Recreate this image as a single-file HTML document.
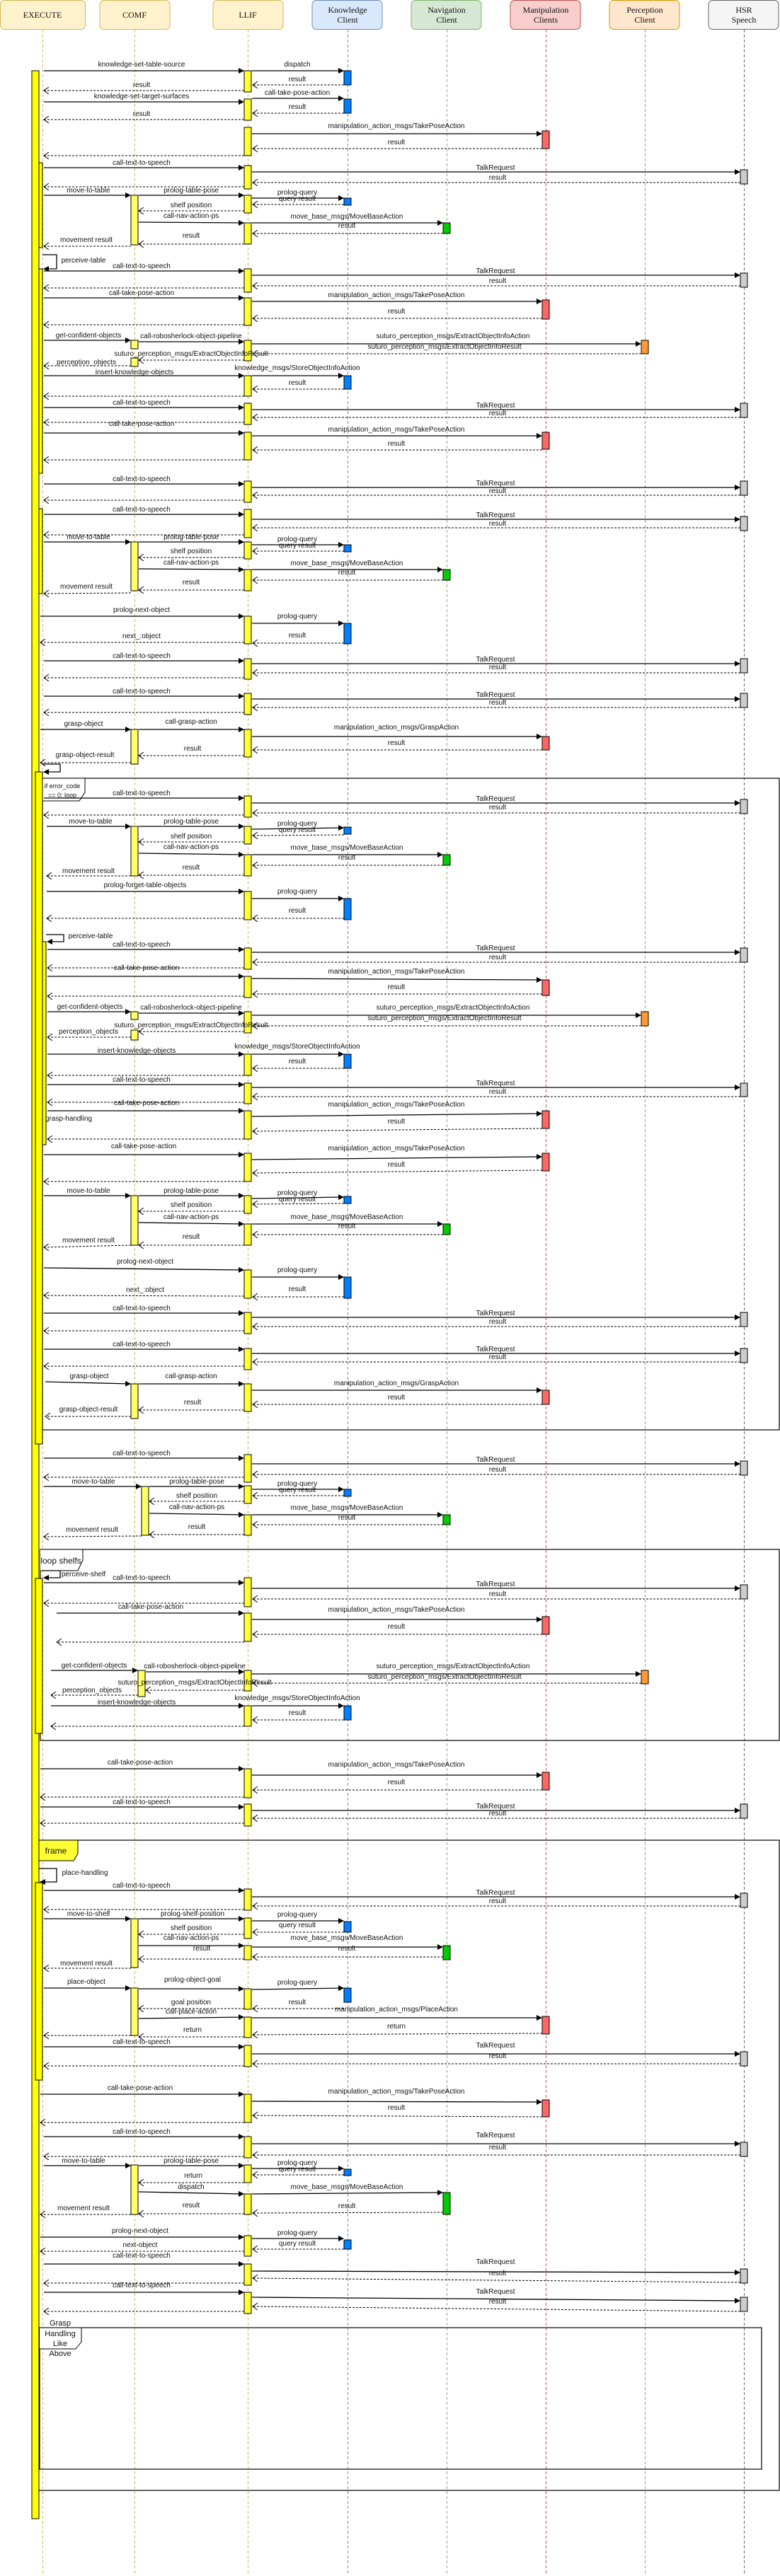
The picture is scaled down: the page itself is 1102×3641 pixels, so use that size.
<!DOCTYPE html>
<html><head><meta charset="utf-8"><style>
html,body{margin:0;padding:0;background:#fff;}
svg{display:block}
text{font-family:"Liberation Sans",sans-serif;font-size:10px;text-anchor:middle;fill:#111}
.hd{font-family:"Liberation Serif",serif;font-size:12px}
.s{stroke:#000;stroke-width:1.3;fill:none;marker-end:url(#a)}
.d{stroke:#000;stroke-width:1;stroke-dasharray:3 2;fill:none;marker-end:url(#o)}
.L{fill:#ffff33;stroke:#000;stroke-width:1}
.C{fill:#ffff66;stroke:#000;stroke-width:1}
.K{fill:#007fff;stroke:#000;stroke-width:1}
.N{fill:#00cc00;stroke:#000;stroke-width:1}
.M{fill:#ff6666;stroke:#000;stroke-width:1}
.P{fill:#ff9933;stroke:#000;stroke-width:1}
.H{fill:#cccccc;stroke:#000;stroke-width:1}
.E{fill:#ffff00;stroke:#000;stroke-width:1}
.ll{stroke-width:1;stroke-dasharray:4 3}
.fr{fill:none;stroke:#000;stroke-width:1.2}
.lp{fill:none;stroke:#000;stroke-width:1.2}
</style></head><body>
<svg width="1102" height="3641" viewBox="0 0 1102 3641" xmlns="http://www.w3.org/2000/svg">
<defs>
<marker id="a" markerWidth="8" markerHeight="8" refX="7" refY="4" orient="auto" markerUnits="userSpaceOnUse"><path d="M0,0L8,4L0,8z" fill="#000"/></marker>
<marker id="o" markerWidth="9" markerHeight="10" refX="7" refY="5" orient="auto" markerUnits="userSpaceOnUse"><path d="M0,0L7,5L0,10" fill="none" stroke="#000"/></marker>
</defs>
<!-- headers -->
<rect x="0.5" y="0.5" width="120" height="41" rx="6" fill="#fff2cc" stroke="#d6b656"/><text class="hd" x="60" y="25">EXECUTE</text>
<rect x="141" y="0.5" width="99" height="41" rx="6" fill="#fff2cc" stroke="#d6b656"/><text class="hd" x="190" y="25">COMF</text>
<rect x="301" y="0.5" width="99" height="41" rx="6" fill="#fff2cc" stroke="#d6b656"/><text class="hd" x="350" y="25">LLIF</text>
<rect x="441" y="0.5" width="99" height="41" rx="6" fill="#dae8fc" stroke="#6c8ebf"/><text class="hd" x="491" y="18">Knowledge</text><text class="hd" x="491" y="32">Client</text>
<rect x="581" y="0.5" width="99" height="41" rx="6" fill="#d5e8d4" stroke="#82b366"/><text class="hd" x="631" y="18">Navigation</text><text class="hd" x="631" y="32">Client</text>
<rect x="721" y="0.5" width="99" height="41" rx="6" fill="#f8cecc" stroke="#b85450"/><text class="hd" x="771" y="18">Manipulation</text><text class="hd" x="771" y="32">Clients</text>
<rect x="861" y="0.5" width="99" height="41" rx="6" fill="#ffe6cc" stroke="#d79b00"/><text class="hd" x="911" y="18">Perception</text><text class="hd" x="911" y="32">Client</text>
<rect x="1001" y="0.5" width="99" height="41" rx="6" fill="#f5f5f5" stroke="#666"/><text class="hd" x="1051" y="18">HSR</text><text class="hd" x="1051" y="32">Speech</text>
<!-- lifelines -->
<line class="ll" x1="60.5" y1="42" x2="60.5" y2="3637" stroke="#d6b656"/>
<line class="ll" x1="190.5" y1="42" x2="190.5" y2="3637" stroke="#d6b656"/>
<line class="ll" x1="350.5" y1="42" x2="350.5" y2="3637" stroke="#d6b656"/>
<line class="ll" x1="491.5" y1="42" x2="491.5" y2="3637" stroke="#6c8ebf"/>
<line class="ll" x1="631.5" y1="42" x2="631.5" y2="3637" stroke="#82b366"/>
<line class="ll" x1="771.5" y1="42" x2="771.5" y2="3637" stroke="#b85450"/>
<line class="ll" x1="911.5" y1="42" x2="911.5" y2="3637" stroke="#999"/>
<line class="ll" x1="1051.5" y1="42" x2="1051.5" y2="3637" stroke="#666"/>

<!-- frames -->
<rect class="fr" x="60" y="1100" width="1041" height="921"/>
<path d="M60,1100H120V1120L112,1132H60" fill="#fff" stroke="#000"/><text x="88" y="1114" style="font-size:9px">if error_code</text><text x="88" y="1127" style="font-size:9px">== 0; loop</text>
<rect class="fr" x="57" y="2190" width="1044" height="270"/>
<path d="M57,2190H117V2205L110,2220H57" fill="#fff" stroke="#000"/><text x="86" y="2210" style="font-size:12px">loop shelfs</text>
<rect class="fr" x="50" y="2601" width="1051" height="919"/>
<path d="M50,2601H110V2620L104,2630H50z" fill="#ffff33" stroke="#000"/><text x="79" y="2620" style="font-size:12px">frame</text>
<rect class="fr" x="56" y="3290" width="1020" height="200"/>
<path d="M56,3290H115V3310L107,3320H56" fill="#fff" stroke="#000"/>
<text x="85" y="3287" style="font-size:11px">Grasp</text><text x="85" y="3302" style="font-size:11px">Handling</text><text x="85" y="3316" style="font-size:11px">Like</text><text x="85" y="3330" style="font-size:11px">Above</text>

<!-- execute activations -->
<rect class="E" x="45" y="100" width="10" height="3460"/>
<rect class="E" x="55" y="230" width="5" height="120"/>
<rect class="E" x="55" y="380" width="5" height="289"/>
<rect class="E" x="55" y="719" width="5" height="120"/>
<rect class="E" x="50" y="1091" width="10" height="950"/>
<rect class="E" x="60" y="1331" width="5" height="287"/>
<rect class="E" x="50" y="2231" width="10" height="219"/>
<rect class="E" x="50" y="2661" width="10" height="279"/>

<!-- self loops -->
<path class="s" d="M60,360H80V380H62"/><text x="118" y="371">perceive-table</text>
<path class="s" d="M60,1080H85V1091H62"/>
<path class="s" d="M65,1321H90V1331H67"/><text x="128" y="1326">perceive-table</text>
<path class="s" d="M60,2220H85V2230H62"/><text x="118" y="2228">perceive-shelf</text>
<path class="s" d="M55,2641H80V2660H57"/><text x="120" y="2650">place-handling</text>
<text x="97" y="1584">grasp-handling</text>

<!-- top custom -->
<text x="200" y="94">knowledge-set-table-source</text><line class="s" x1="62" y1="100" x2="344" y2="100"/>
<rect class="L" x="345" y="100" width="10" height="30"/>
<text x="420" y="94">dispatch</text><line class="s" x1="356" y1="100" x2="485" y2="100"/>
<rect class="K" x="486" y="100" width="10" height="20"/>
<text x="420" y="115">result</text><line class="d" x1="486" y1="120" x2="357" y2="120"/>
<text x="200" y="123">result</text><line class="d" x1="345" y1="128" x2="62" y2="128"/>
<text x="420" y="134">call-take-pose-action</text><line class="s" x1="356" y1="139" x2="485" y2="139"/>
<rect class="K" x="486" y="140" width="10" height="20"/>
<text x="420" y="154">result</text><line class="d" x1="486" y1="160" x2="357" y2="160"/>
<text x="200" y="139">knowledge-set-target-surfaces</text><line class="s" x1="62" y1="144" x2="344" y2="144"/>
<rect class="L" x="345" y="140" width="10" height="30"/>
<text x="200" y="164">result</text><line class="d" x1="345" y1="169" x2="62" y2="169"/>
<rect class="L" x="345" y="180" width="10" height="40"/>
<text x="560" y="181">manipulation_action_msgs/TakePoseAction</text><line class="s" x1="356" y1="189" x2="765" y2="189"/>
<rect class="M" x="766" y="185" width="10" height="25"/>
<text x="560" y="204">result</text><line class="d" x1="766" y1="210" x2="357" y2="210"/>
<line class="d" x1="345" y1="220" x2="62" y2="220"/>

<!-- T instances -->
<g transform="translate(0,237)"><text x="200" y="-4">call-text-to-speech</text><line class="s" x1="62" y1="0" x2="344" y2="0"/><rect class="L" x="345" y="-3" width="10" height="33"/><line class="s" x1="356" y1="6" x2="1045" y2="6"/><text x="700" y="3">TalkRequest</text><rect class="H" x="1046" y="3" width="10" height="20"/><line class="d" x1="1046" y1="21" x2="357" y2="21"/><text x="703" y="17">result</text><line class="d" x1="345" y1="27" x2="62" y2="27"/></g>
<g transform="translate(0,383)"><text x="200" y="-4">call-text-to-speech</text><line class="s" x1="62" y1="0" x2="344" y2="0"/><rect class="L" x="345" y="-3" width="10" height="33"/><line class="s" x1="356" y1="6" x2="1045" y2="6"/><text x="700" y="3">TalkRequest</text><rect class="H" x="1046" y="3" width="10" height="20"/><line class="d" x1="1046" y1="21" x2="357" y2="21"/><text x="703" y="17">result</text><line class="d" x1="345" y1="24" x2="62" y2="24"/></g>
<g transform="translate(0,576)"><text x="200" y="-4">call-text-to-speech</text><line class="s" x1="62" y1="0" x2="344" y2="0"/><rect class="L" x="345" y="-6" width="10" height="30"/><line class="s" x1="356" y1="3" x2="1045" y2="3"/><text x="700" y="0">TalkRequest</text><rect class="H" x="1046" y="-6" width="10" height="20"/><line class="d" x1="1046" y1="14" x2="357" y2="14"/><text x="703" y="11">result</text><line class="d" x1="345" y1="21" x2="62" y2="21"/></g>
<g transform="translate(0,684)"><text x="200" y="-4">call-text-to-speech</text><line class="s" x1="62" y1="0" x2="344" y2="0"/><rect class="L" x="345" y="-4" width="10" height="30"/><line class="s" x1="356" y1="5" x2="1045" y2="5"/><text x="700" y="2">TalkRequest</text><rect class="H" x="1046" y="-4" width="10" height="20"/><line class="d" x1="1046" y1="16" x2="357" y2="16"/><text x="703" y="13">result</text><line class="d" x1="345" y1="23" x2="62" y2="23"/></g>
<g transform="translate(0,727)"><text x="200" y="-4">call-text-to-speech</text><line class="s" x1="62" y1="0" x2="344" y2="0"/><rect class="L" x="345" y="-7" width="10" height="40"/><line class="s" x1="356" y1="7" x2="1045" y2="7"/><text x="700" y="4">TalkRequest</text><rect class="H" x="1046" y="3" width="10" height="20"/><line class="d" x1="1046" y1="19" x2="357" y2="19"/><text x="703" y="16">result</text><line class="d" x1="345" y1="29" x2="62" y2="29"/></g>
<g transform="translate(0,934)"><text x="200" y="-4">call-text-to-speech</text><line class="s" x1="62" y1="0" x2="344" y2="0"/><rect class="L" x="345" y="-3" width="10" height="29"/><line class="s" x1="356" y1="4" x2="1045" y2="4"/><text x="700" y="1">TalkRequest</text><rect class="H" x="1046" y="-3" width="10" height="20"/><line class="d" x1="1046" y1="17" x2="357" y2="17"/><text x="703" y="12">result</text><line class="d" x1="345" y1="24" x2="62" y2="24"/></g>
<g transform="translate(0,984)"><text x="200" y="-4">call-text-to-speech</text><line class="s" x1="62" y1="0" x2="344" y2="0"/><rect class="L" x="345" y="-4" width="10" height="30"/><line class="s" x1="356" y1="4" x2="1045" y2="4"/><text x="700" y="1">TalkRequest</text><rect class="H" x="1046" y="-4" width="10" height="20"/><line class="d" x1="1046" y1="16" x2="357" y2="16"/><text x="703" y="12">result</text><line class="d" x1="345" y1="23" x2="62" y2="23"/></g>
<g transform="translate(0,1128)"><text x="200" y="-4">call-text-to-speech</text><line class="s" x1="62" y1="0" x2="344" y2="0"/><rect class="L" x="345" y="-3" width="10" height="30"/><line class="s" x1="356" y1="7" x2="1045" y2="7"/><text x="700" y="4">TalkRequest</text><rect class="H" x="1046" y="2" width="10" height="20"/><line class="d" x1="1046" y1="21" x2="357" y2="21"/><text x="703" y="16">result</text><line class="d" x1="345" y1="24" x2="62" y2="24"/></g>
<g transform="translate(0,1342)"><text x="200" y="-4">call-text-to-speech</text><line class="s" x1="67" y1="0" x2="344" y2="0"/><rect class="L" x="345" y="-2" width="10" height="30"/><line class="s" x1="356" y1="4" x2="1045" y2="4"/><text x="700" y="1">TalkRequest</text><rect class="H" x="1046" y="-2" width="10" height="20"/><line class="d" x1="1046" y1="18" x2="357" y2="18"/><text x="703" y="14">result</text><line class="d" x1="345" y1="26" x2="67" y2="26"/><text x="207" y="29">call-take-pose-action</text></g>
<g transform="translate(0,1533)"><text x="200" y="-4">call-text-to-speech</text><line class="s" x1="67" y1="0" x2="344" y2="0"/><rect class="L" x="345" y="-2" width="10" height="29"/><line class="s" x1="356" y1="4" x2="1045" y2="4"/><text x="700" y="1">TalkRequest</text><rect class="H" x="1046" y="-2" width="10" height="19"/><line class="d" x1="1046" y1="17" x2="357" y2="17"/><text x="703" y="13">result</text><line class="d" x1="345" y1="25" x2="67" y2="25"/><text x="207" y="29">call-take-pose-action</text></g>
<g transform="translate(0,1856)"><text x="200" y="-4">call-text-to-speech</text><line class="s" x1="62" y1="0" x2="344" y2="0"/><rect class="L" x="345" y="-1" width="10" height="30"/><line class="s" x1="356" y1="6" x2="1045" y2="6"/><text x="700" y="3">TalkRequest</text><rect class="H" x="1046" y="-1" width="10" height="20"/><line class="d" x1="1046" y1="19" x2="357" y2="19"/><text x="703" y="15">result</text><line class="d" x1="345" y1="25" x2="62" y2="25"/></g>
<g transform="translate(0,1907)"><text x="200" y="-4">call-text-to-speech</text><line class="s" x1="62" y1="0" x2="344" y2="0"/><rect class="L" x="345" y="-1" width="10" height="30"/><line class="s" x1="356" y1="6" x2="1045" y2="6"/><text x="700" y="3">TalkRequest</text><rect class="H" x="1046" y="-1" width="10" height="20"/><line class="d" x1="1046" y1="18" x2="357" y2="18"/><text x="703" y="14">result</text><line class="d" x1="345" y1="24" x2="62" y2="24"/></g>
<g transform="translate(0,2061)"><text x="200" y="-4">call-text-to-speech</text><line class="s" x1="62" y1="0" x2="344" y2="0"/><rect class="L" x="345" y="-5" width="10" height="39"/><line class="s" x1="356" y1="8" x2="1045" y2="8"/><text x="700" y="5">TalkRequest</text><rect class="H" x="1046" y="4" width="10" height="20"/><line class="d" x1="1046" y1="23" x2="357" y2="23"/><text x="703" y="19">result</text><line class="d" x1="345" y1="27" x2="62" y2="27"/></g>
<g transform="translate(0,2237)"><text x="200" y="-4">call-text-to-speech</text><line class="s" x1="62" y1="0" x2="344" y2="0"/><rect class="L" x="345" y="-7" width="10" height="41"/><line class="s" x1="356" y1="8" x2="1045" y2="8"/><text x="700" y="5">TalkRequest</text><rect class="H" x="1046" y="3" width="10" height="20"/><line class="d" x1="1046" y1="23" x2="357" y2="23"/><text x="703" y="19">result</text><line class="d" x1="345" y1="29" x2="62" y2="29"/></g>
<g transform="translate(0,2554)"><text x="200" y="-4">call-text-to-speech</text><line class="s" x1="57" y1="0" x2="344" y2="0"/><rect class="L" x="345" y="-4" width="10" height="31"/><line class="s" x1="356" y1="5" x2="1045" y2="5"/><text x="700" y="2">TalkRequest</text><rect class="H" x="1046" y="-4" width="10" height="20"/><line class="d" x1="1046" y1="16" x2="357" y2="16"/><text x="703" y="12">result</text><line class="d" x1="345" y1="23" x2="57" y2="23"/></g>
<g transform="translate(0,2672)"><text x="200" y="-4">call-text-to-speech</text><line class="s" x1="62" y1="0" x2="344" y2="0"/><rect class="L" x="345" y="-2" width="10" height="30"/><line class="s" x1="356" y1="9" x2="1045" y2="9"/><text x="700" y="6">TalkRequest</text><rect class="H" x="1046" y="4" width="10" height="20"/><line class="d" x1="1046" y1="22" x2="357" y2="22"/><text x="703" y="18">result</text><line class="d" x1="345" y1="27" x2="62" y2="27"/></g>
<g transform="translate(0,2893)"><text x="200" y="-4">call-text-to-speech</text><line class="s" x1="62" y1="0" x2="344" y2="0"/><rect class="L" x="345" y="-2" width="10" height="30"/><line class="s" x1="356" y1="10" x2="1045" y2="10"/><text x="700" y="1">TalkRequest</text><rect class="H" x="1046" y="7" width="10" height="20"/><line class="d" x1="1046" y1="24" x2="357" y2="24"/><text x="703" y="16">result</text><line class="d" x1="345" y1="27" x2="62" y2="27"/></g>
<g transform="translate(0,3020)"><text x="200" y="-4">call-text-to-speech</text><line class="s" x1="62" y1="0" x2="344" y2="0"/><rect class="L" x="345" y="0" width="10" height="30"/><line class="s" x1="356" y1="10" x2="1045" y2="10"/><text x="700" y="1">TalkRequest</text><rect class="H" x="1046" y="8" width="10" height="20"/><line class="d" x1="1046" y1="26" x2="357" y2="26"/><text x="703" y="18">result</text><line class="d" x1="345" y1="28" x2="62" y2="28"/></g>
<g transform="translate(0,3200)"><text x="200" y="-9">call-text-to-speech</text><line class="s" x1="62" y1="0" x2="344" y2="0"/><rect class="L" x="345" y="0" width="10" height="30"/><line class="s" x1="356" y1="10" x2="1045" y2="12"/><text x="700" y="0">TalkRequest</text><rect class="H" x="1046" y="7" width="10" height="20"/><line class="d" x1="1046" y1="26" x2="357" y2="20"/><text x="703" y="16">result</text><line class="d" x1="345" y1="27" x2="62" y2="27"/></g>
<g transform="translate(0,3240)"><text x="200" y="-7">call-text-to-speech</text><line class="s" x1="62" y1="0" x2="344" y2="0"/><rect class="L" x="345" y="0" width="10" height="30"/><line class="s" x1="356" y1="7" x2="1045" y2="12"/><text x="700" y="2">TalkRequest</text><rect class="H" x="1046" y="7" width="10" height="20"/><line class="d" x1="1046" y1="27" x2="357" y2="20"/><text x="703" y="16">result</text><line class="d" x1="345" y1="27" x2="62" y2="27"/></g>

<!-- P instances -->
<g transform="translate(0,421)"><text x="200" y="-4">call-take-pose-action</text><line class="s" x1="62" y1="0" x2="344" y2="0"/><rect class="L" x="345" y="0" width="10" height="39"/><line class="s" x1="356" y1="5" x2="765" y2="5"/><text x="560" y="-1">manipulation_action_msgs/TakePoseAction</text><rect class="M" x="766" y="3" width="10" height="27"/><line class="d" x1="766" y1="29" x2="357" y2="29"/><text x="560" y="22">result</text><line class="d" x1="345" y1="38" x2="62" y2="38"/></g>
<g transform="translate(0,612)"><line class="s" x1="62" y1="0" x2="344" y2="0"/><rect class="L" x="345" y="-1" width="10" height="39"/><line class="s" x1="356" y1="4" x2="765" y2="4"/><text x="560" y="-2">manipulation_action_msgs/TakePoseAction</text><rect class="M" x="766" y="-1" width="10" height="24"/><line class="d" x1="766" y1="24" x2="357" y2="24"/><text x="560" y="18">result</text><line class="d" x1="345" y1="38" x2="62" y2="38"/><text x="200" y="-10">call-take-pose-action</text></g>
<g transform="translate(0,1380)"><line class="s" x1="67" y1="0" x2="344" y2="0"/><rect class="L" x="345" y="0" width="10" height="30"/><line class="s" x1="356" y1="3" x2="765" y2="5"/><text x="560" y="-4">manipulation_action_msgs/TakePoseAction</text><rect class="M" x="766" y="5" width="10" height="22"/><line class="d" x1="766" y1="25" x2="357" y2="25"/><text x="560" y="18">result</text><line class="d" x1="345" y1="28" x2="67" y2="28"/></g>
<g transform="translate(0,1570)"><line class="s" x1="67" y1="0" x2="344" y2="0"/><rect class="L" x="345" y="0" width="10" height="40"/><line class="s" x1="356" y1="8" x2="765" y2="4"/><text x="560" y="-6">manipulation_action_msgs/TakePoseAction</text><rect class="M" x="766" y="0" width="10" height="25"/><line class="d" x1="766" y1="25" x2="357" y2="29"/><text x="560" y="18">result</text><line class="d" x1="345" y1="40" x2="67" y2="40"/></g>
<g transform="translate(0,1632)"><text x="203" y="-9">call-take-pose-action</text><line class="s" x1="62" y1="0" x2="344" y2="0"/><rect class="L" x="345" y="-2" width="10" height="40"/><line class="s" x1="356" y1="7" x2="765" y2="3"/><text x="560" y="-6">manipulation_action_msgs/TakePoseAction</text><rect class="M" x="766" y="-2" width="10" height="25"/><line class="d" x1="766" y1="22" x2="357" y2="26"/><text x="560" y="17">result</text><line class="d" x1="345" y1="38" x2="62" y2="38"/></g>
<g transform="translate(0,2280)"><text x="213" y="-6">call-take-pose-action</text><line class="s" x1="80" y1="0" x2="344" y2="0"/><rect class="L" x="345" y="0" width="10" height="40"/><line class="s" x1="356" y1="9" x2="765" y2="9"/><text x="560" y="-2">manipulation_action_msgs/TakePoseAction</text><rect class="M" x="766" y="5" width="10" height="25"/><line class="d" x1="766" y1="30" x2="357" y2="30"/><text x="560" y="22">result</text><line class="d" x1="345" y1="41" x2="80" y2="41"/></g>
<g transform="translate(0,2500)"><text x="198" y="-6">call-take-pose-action</text><line class="s" x1="57" y1="0" x2="344" y2="0"/><rect class="L" x="345" y="0" width="10" height="41"/><line class="s" x1="356" y1="9" x2="765" y2="9"/><text x="560" y="-3">manipulation_action_msgs/TakePoseAction</text><rect class="M" x="766" y="5" width="10" height="25"/><line class="d" x1="766" y1="30" x2="357" y2="30"/><text x="560" y="22">result</text><line class="d" x1="345" y1="40" x2="57" y2="40"/></g>
<g transform="translate(0,2960)"><text x="198" y="-6">call-take-pose-action</text><line class="s" x1="57" y1="0" x2="344" y2="0"/><rect class="L" x="345" y="0" width="10" height="40"/><line class="s" x1="356" y1="10" x2="765" y2="11"/><text x="560" y="-1">manipulation_action_msgs/TakePoseAction</text><rect class="M" x="766" y="8" width="10" height="24"/><line class="d" x1="766" y1="32" x2="357" y2="30"/><text x="560" y="22">result</text><line class="d" x1="345" y1="40" x2="57" y2="40"/></g>

<!-- M (move) instances -->
<g transform="translate(0,276)"><text x="125" y="-4">move-to-table</text><text x="270" y="-4">prolog-table-pose</text><line class="s" x1="62" y1="0" x2="184" y2="0"/><rect class="C" x="185" y="0" width="10" height="70"/><line class="s" x1="196" y1="0" x2="344" y2="0"/><rect class="L" x="345" y="0" width="10" height="25"/><text x="420" y="-1">prolog-query</text><line class="s" x1="356" y1="4" x2="485" y2="4"/><text x="420" y="8">query result</text><rect class="K" x="486" y="4" width="10" height="10"/><line class="d" x1="486" y1="13" x2="357" y2="13"/><text x="270" y="17">shelf position</text><line class="d" x1="345" y1="22" x2="196" y2="22"/><text x="270" y="32">call-nav-action-ps</text><line class="s" x1="196" y1="38" x2="344" y2="39"/><rect class="L" x="345" y="39" width="10" height="30"/><text x="490" y="33">move_base_msgs/MoveBaseAction</text><line class="s" x1="356" y1="39" x2="625" y2="39"/><rect class="N" x="626" y="39" width="10" height="15"/><text x="490" y="46">result</text><line class="d" x1="626" y1="54" x2="357" y2="54"/><text x="270" y="60">result</text><line class="d" x1="345" y1="69" x2="196" y2="69"/><text x="122" y="66">movement result</text><line class="d" x1="185" y1="72" x2="62" y2="72"/></g>
<g transform="translate(0,766)"><text x="125" y="-4">move-to-table</text><text x="270" y="-4">prolog-table-pose</text><line class="s" x1="62" y1="0" x2="184" y2="0"/><rect class="C" x="185" y="0" width="10" height="69"/><line class="s" x1="196" y1="0" x2="344" y2="0"/><rect class="L" x="345" y="0" width="10" height="24"/><text x="420" y="-1">prolog-query</text><line class="s" x1="356" y1="4" x2="485" y2="4"/><text x="420" y="8">query result</text><rect class="K" x="486" y="4" width="10" height="10"/><line class="d" x1="486" y1="13" x2="357" y2="13"/><text x="270" y="16">shelf position</text><line class="d" x1="345" y1="22" x2="196" y2="22"/><text x="270" y="32">call-nav-action-ps</text><line class="s" x1="196" y1="38" x2="344" y2="39"/><rect class="L" x="345" y="39" width="10" height="30"/><text x="490" y="33">move_base_msgs/MoveBaseAction</text><line class="s" x1="356" y1="39" x2="625" y2="39"/><rect class="N" x="626" y="39" width="10" height="15"/><text x="490" y="46">result</text><line class="d" x1="626" y1="54" x2="357" y2="54"/><text x="270" y="60">result</text><line class="d" x1="345" y1="68" x2="196" y2="68"/><text x="122" y="66">movement result</text><line class="d" x1="185" y1="72" x2="62" y2="73"/></g>
<g transform="translate(0,1168)"><text x="128" y="-4">move-to-table</text><text x="270" y="-4">prolog-table-pose</text><line class="s" x1="66" y1="0" x2="184" y2="0"/><rect class="C" x="185" y="0" width="10" height="70"/><line class="s" x1="196" y1="0" x2="344" y2="0"/><rect class="L" x="345" y="0" width="10" height="25"/><text x="420" y="-1">prolog-query</text><line class="s" x1="356" y1="4" x2="485" y2="2"/><text x="420" y="8">query result</text><rect class="K" x="486" y="1" width="10" height="10"/><line class="d" x1="486" y1="12" x2="357" y2="13"/><text x="270" y="17">shelf position</text><line class="d" x1="345" y1="22" x2="196" y2="22"/><text x="270" y="32">call-nav-action-ps</text><line class="s" x1="196" y1="38" x2="344" y2="40"/><rect class="L" x="345" y="40" width="10" height="30"/><text x="490" y="33">move_base_msgs/MoveBaseAction</text><line class="s" x1="356" y1="40" x2="625" y2="40"/><rect class="N" x="626" y="40" width="10" height="15"/><text x="490" y="47">result</text><line class="d" x1="626" y1="55" x2="357" y2="55"/><text x="270" y="61">result</text><line class="d" x1="345" y1="69" x2="196" y2="69"/><text x="125" y="66">movement result</text><line class="d" x1="185" y1="70" x2="66" y2="70"/></g>
<g transform="translate(0,1690)"><text x="125" y="-4">move-to-table</text><text x="270" y="-4">prolog-table-pose</text><line class="s" x1="62" y1="0" x2="184" y2="0"/><rect class="C" x="185" y="0" width="10" height="70"/><line class="s" x1="196" y1="0" x2="344" y2="0"/><rect class="L" x="345" y="0" width="10" height="25"/><text x="420" y="-1">prolog-query</text><line class="s" x1="356" y1="4" x2="485" y2="2"/><text x="420" y="8">query result</text><rect class="K" x="486" y="1" width="10" height="10"/><line class="d" x1="486" y1="11" x2="357" y2="12"/><text x="270" y="16">shelf position</text><line class="d" x1="345" y1="22" x2="196" y2="22"/><text x="270" y="33">call-nav-action-ps</text><line class="s" x1="196" y1="38" x2="344" y2="40"/><rect class="L" x="345" y="40" width="10" height="30"/><text x="490" y="33">move_base_msgs/MoveBaseAction</text><line class="s" x1="356" y1="40" x2="625" y2="40"/><rect class="N" x="626" y="40" width="10" height="15"/><text x="490" y="46">result</text><line class="d" x1="626" y1="55" x2="357" y2="55"/><text x="270" y="61">result</text><line class="d" x1="345" y1="70" x2="196" y2="70"/><text x="125" y="66">movement result</text><line class="d" x1="185" y1="70" x2="62" y2="73"/></g>
<g transform="translate(0,2101)"><text x="132" y="-4">move-to-table</text><text x="278" y="-4">prolog-table-pose</text><line class="s" x1="62" y1="0" x2="199" y2="0"/><rect class="C" x="200" y="0" width="10" height="69"/><line class="s" x1="211" y1="0" x2="344" y2="0"/><rect class="L" x="345" y="-1" width="10" height="25"/><text x="420" y="-1">prolog-query</text><line class="s" x1="356" y1="4" x2="485" y2="4"/><text x="420" y="8">query result</text><rect class="K" x="486" y="4" width="10" height="10"/><line class="d" x1="486" y1="13" x2="357" y2="13"/><text x="278" y="16">shelf position</text><line class="d" x1="345" y1="21" x2="211" y2="21"/><text x="278" y="32">call-nav-action-ps</text><line class="s" x1="211" y1="38" x2="344" y2="40"/><rect class="L" x="345" y="40" width="10" height="29"/><text x="490" y="33">move_base_msgs/MoveBaseAction</text><line class="s" x1="356" y1="40" x2="625" y2="40"/><rect class="N" x="626" y="40" width="10" height="14"/><text x="490" y="47">result</text><line class="d" x1="626" y1="54" x2="357" y2="54"/><text x="278" y="60">result</text><line class="d" x1="345" y1="68" x2="211" y2="68"/><text x="130" y="64">movement result</text><line class="d" x1="200" y1="70" x2="62" y2="71"/></g>
<g transform="translate(0,2712)"><text x="125" y="-4">move-to-shelf</text><text x="272" y="-4">prolog-shelf-position</text><line class="s" x1="62" y1="0" x2="184" y2="0"/><rect class="C" x="185" y="0" width="10" height="69"/><line class="s" x1="196" y1="0" x2="344" y2="0"/><rect class="L" x="345" y="-1" width="10" height="29"/><text x="420" y="-3">prolog-query</text><line class="s" x1="356" y1="3" x2="485" y2="3"/><text x="420" y="12">query result</text><rect class="K" x="486" y="4" width="10" height="15"/><line class="d" x1="486" y1="19" x2="357" y2="19"/><text x="270" y="16">shelf position</text><line class="d" x1="345" y1="22" x2="196" y2="22"/><text x="270" y="30">call-nav-action-ps</text><line class="s" x1="196" y1="38" x2="344" y2="38"/><rect class="L" x="345" y="38" width="10" height="20"/><text x="285" y="45">result</text><text x="490" y="30">move_base_msgs/MoveBaseAction</text><line class="s" x1="356" y1="40" x2="625" y2="40"/><rect class="N" x="626" y="38" width="10" height="20"/><text x="490" y="45">result</text><line class="d" x1="626" y1="54" x2="357" y2="54"/><line class="d" x1="345" y1="57" x2="196" y2="57"/><text x="122" y="66">movement result</text><line class="d" x1="185" y1="70" x2="62" y2="70"/></g>
<g transform="translate(0,3061)"><text x="118" y="-4">move-to-table</text><text x="270" y="-4">prolog-table-pose</text><line class="s" x1="62" y1="0" x2="184" y2="0"/><rect class="C" x="185" y="-1" width="10" height="70"/><line class="s" x1="196" y1="0" x2="344" y2="0"/><rect class="L" x="345" y="-1" width="10" height="25"/><text x="420" y="-1">prolog-query</text><line class="s" x1="356" y1="4" x2="485" y2="4"/><text x="420" y="8">query result</text><rect class="K" x="486" y="5" width="10" height="9"/><line class="d" x1="486" y1="13" x2="357" y2="13"/><text x="273" y="17">return</text><line class="d" x1="345" y1="24" x2="196" y2="24"/><text x="270" y="33">dispatch</text><line class="s" x1="196" y1="37" x2="344" y2="40"/><rect class="L" x="345" y="40" width="10" height="29"/><text x="490" y="33">move_base_msgs/MoveBaseAction</text><line class="s" x1="356" y1="40" x2="625" y2="38"/><rect class="N" x="626" y="38" width="10" height="31"/><text x="490" y="60">result</text><line class="d" x1="626" y1="66" x2="357" y2="67"/><text x="270" y="59">result</text><line class="d" x1="345" y1="68" x2="196" y2="68"/><text x="118" y="63">movement result</text><line class="d" x1="185" y1="69" x2="57" y2="69"/></g>

<!-- G + K instances -->
<g transform="translate(0,481)"><text x="125" y="-4">get-confident-objects</text><line class="s" x1="62" y1="0" x2="184" y2="0"/><rect class="C" x="185" y="0" width="10" height="12"/><rect class="C" x="185" y="25" width="10" height="12"/><text x="270" y="-3">call-robosherlock-object-pipeline</text><line class="s" x1="196" y1="2" x2="344" y2="2"/><rect class="L" x="345" y="0" width="10" height="29"/><text x="640" y="-3">suturo_perception_msgs/ExtractObjectInfoAction</text><line class="s" x1="356" y1="5" x2="905" y2="5"/><rect class="P" x="906" y="0" width="10" height="19"/><text x="628" y="12">suturo_perception_msgs/ExtractObjectInfoResult</text><line class="d" x1="906" y1="19" x2="357" y2="19"/><text x="270" y="22">suturo_perception_msgs/ExtractObjectInfoResult</text><line class="d" x1="345" y1="28" x2="196" y2="28"/><text x="122" y="34">perception_objects</text><line class="d" x1="185" y1="36" x2="62" y2="36"/></g>
<g transform="translate(0,531)"><text x="190" y="-2">insert-knowledge-objects</text><line class="s" x1="62" y1="0" x2="344" y2="0"/><rect class="L" x="345" y="0" width="10" height="29"/><text x="420" y="-8">knowledge_msgs/StoreObjectInfoAction</text><line class="s" x1="356" y1="0" x2="485" y2="0"/><rect class="K" x="486" y="0" width="10" height="19"/><text x="420" y="13">result</text><line class="d" x1="486" y1="19" x2="357" y2="19"/><line class="d" x1="345" y1="29" x2="62" y2="29"/></g>
<g transform="translate(0,1430)"><text x="127" y="-4">get-confident-objects</text><line class="s" x1="67" y1="0" x2="184" y2="0"/><rect class="C" x="185" y="0" width="10" height="11"/><rect class="C" x="185" y="26" width="10" height="14"/><text x="270" y="-3">call-robosherlock-object-pipeline</text><line class="s" x1="196" y1="2" x2="344" y2="2"/><rect class="L" x="345" y="0" width="10" height="30"/><text x="640" y="-3">suturo_perception_msgs/ExtractObjectInfoAction</text><line class="s" x1="356" y1="5" x2="905" y2="5"/><rect class="P" x="906" y="0" width="10" height="20"/><text x="628" y="12">suturo_perception_msgs/ExtractObjectInfoResult</text><line class="d" x1="906" y1="20" x2="357" y2="20"/><text x="270" y="22">suturo_perception_msgs/ExtractObjectInfoResult</text><line class="d" x1="345" y1="28" x2="196" y2="28"/><text x="125" y="31">perception_objects</text><line class="d" x1="185" y1="36" x2="67" y2="36"/></g>
<g transform="translate(0,1490)"><text x="193" y="-2">insert-knowledge-objects</text><line class="s" x1="67" y1="0" x2="344" y2="0"/><rect class="L" x="345" y="0" width="10" height="30"/><text x="420" y="-8">knowledge_msgs/StoreObjectInfoAction</text><line class="s" x1="356" y1="0" x2="485" y2="0"/><rect class="K" x="486" y="0" width="10" height="20"/><text x="420" y="13">result</text><line class="d" x1="486" y1="20" x2="357" y2="20"/><line class="d" x1="345" y1="30" x2="67" y2="30"/></g>
<g transform="translate(0,2361)"><text x="133" y="-4">get-confident-objects</text><line class="s" x1="72" y1="0" x2="194" y2="0"/><rect class="C" x="195" y="0" width="10" height="37"/><text x="275" y="-3">call-robosherlock-object-pipeline</text><line class="s" x1="206" y1="2" x2="344" y2="2"/><rect class="L" x="345" y="0" width="10" height="29"/><text x="640" y="-3">suturo_perception_msgs/ExtractObjectInfoAction</text><line class="s" x1="356" y1="5" x2="905" y2="5"/><rect class="P" x="906" y="0" width="10" height="19"/><text x="628" y="12">suturo_perception_msgs/ExtractObjectInfoResult</text><line class="d" x1="906" y1="18" x2="357" y2="18"/><text x="275" y="20">suturo_perception_msgs/ExtractObjectInfoResult</text><line class="d" x1="345" y1="28" x2="206" y2="28"/><text x="130" y="31">perception_objects</text><line class="d" x1="195" y1="35" x2="72" y2="35"/></g>
<g transform="translate(0,2411)"><text x="193" y="-2">insert-knowledge-objects</text><line class="s" x1="72" y1="0" x2="344" y2="0"/><rect class="L" x="345" y="0" width="10" height="29"/><text x="420" y="-8">knowledge_msgs/StoreObjectInfoAction</text><line class="s" x1="356" y1="0" x2="485" y2="0"/><rect class="K" x="486" y="0" width="10" height="20"/><text x="420" y="13">result</text><line class="d" x1="486" y1="20" x2="357" y2="20"/><line class="d" x1="345" y1="29" x2="72" y2="29"/></g>

<!-- N instances -->
<g transform="translate(0,871)"><text x="200" y="-6">prolog-next-object</text><line class="s" x1="57" y1="0" x2="344" y2="0"/><rect class="L" x="345" y="0" width="10" height="39"/><text x="420" y="3">prolog-query</text><line class="s" x1="356" y1="10" x2="485" y2="10"/><rect class="K" x="486" y="10" width="10" height="29"/><text x="420" y="30">result</text><line class="d" x1="486" y1="38" x2="357" y2="38"/><text x="200" y="31">next_:object</text><line class="d" x1="345" y1="37" x2="57" y2="37"/></g>
<g transform="translate(0,1260)"><text x="205" y="-6">prolog-forget-table-objects</text><line class="s" x1="66" y1="0" x2="344" y2="0"/><rect class="L" x="345" y="0" width="10" height="40"/><text x="420" y="3">prolog-query</text><line class="s" x1="356" y1="10" x2="485" y2="10"/><rect class="K" x="486" y="10" width="10" height="30"/><text x="420" y="30">result</text><line class="d" x1="486" y1="38" x2="357" y2="38"/><line class="d" x1="345" y1="38" x2="66" y2="38"/></g>
<g transform="translate(0,1792)"><text x="205" y="-6">prolog-next-object</text><line class="s" x1="62" y1="0" x2="344" y2="3"/><rect class="L" x="345" y="3" width="10" height="40"/><text x="420" y="6">prolog-query</text><line class="s" x1="356" y1="13" x2="485" y2="13"/><rect class="K" x="486" y="13" width="10" height="30"/><text x="420" y="33">result</text><line class="d" x1="486" y1="41" x2="357" y2="41"/><text x="205" y="34">next_:object</text><line class="d" x1="345" y1="40" x2="62" y2="39"/></g>
<g transform="translate(0,3162)"><text x="198" y="-6">prolog-next-object</text><line class="s" x1="57" y1="0" x2="344" y2="0"/><rect class="L" x="345" y="-2" width="10" height="29"/><text x="420" y="-3">prolog-query</text><line class="s" x1="356" y1="2" x2="485" y2="2"/><rect class="K" x="486" y="4" width="10" height="13"/><text x="420" y="12">query result</text><line class="d" x1="486" y1="17" x2="357" y2="17"/><text x="198" y="14">next-object</text><line class="d" x1="345" y1="20" x2="57" y2="20"/></g>

<!-- Grasp instances -->
<g transform="translate(0,1031)"><text x="118" y="-5">grasp-object</text><line class="s" x1="57" y1="0" x2="184" y2="0"/><rect class="C" x="185" y="0" width="10" height="49"/><text x="270" y="-8">call-grasp-action</text><line class="s" x1="196" y1="0" x2="344" y2="0"/><rect class="L" x="345" y="0" width="10" height="39"/><text x="560" y="0">manipulation_action_msgs/GraspAction</text><line class="s" x1="356" y1="10" x2="765" y2="10"/><rect class="M" x="766" y="10" width="10" height="19"/><text x="560" y="22">result</text><line class="d" x1="766" y1="29" x2="357" y2="29"/><text x="272" y="30">result</text><line class="d" x1="345" y1="37" x2="196" y2="37"/><text x="120" y="39">grasp-object-result</text><line class="d" x1="185" y1="47" x2="57" y2="47"/></g>
<g transform="translate(0,1953)"><text x="126" y="-5">grasp-object</text><line class="s" x1="64" y1="0" x2="184" y2="3"/><rect class="C" x="185" y="3" width="10" height="49"/><text x="270" y="-5">call-grasp-action</text><line class="s" x1="196" y1="3" x2="344" y2="3"/><rect class="L" x="345" y="3" width="10" height="39"/><text x="560" y="5">manipulation_action_msgs/GraspAction</text><line class="s" x1="356" y1="12" x2="765" y2="12"/><rect class="M" x="766" y="12" width="10" height="20"/><text x="560" y="25">result</text><line class="d" x1="766" y1="32" x2="357" y2="32"/><text x="272" y="32">result</text><line class="d" x1="345" y1="40" x2="196" y2="40"/><text x="125" y="42">grasp-object-result</text><line class="d" x1="185" y1="49" x2="64" y2="49"/></g>

<!-- place-object -->
<g transform="translate(0,2810)"><text x="122" y="-6">place-object</text><line class="s" x1="62" y1="0" x2="184" y2="0"/><rect class="C" x="185" y="0" width="10" height="67"/><text x="272" y="-9">prolog-object-goal</text><line class="s" x1="196" y1="1" x2="344" y2="1"/><rect class="L" x="345" y="1" width="10" height="29"/><text x="420" y="-5">prolog-query</text><line class="s" x1="356" y1="2" x2="485" y2="0"/><rect class="K" x="486" y="0" width="10" height="20"/><text x="420" y="23">result</text><line class="d" x1="486" y1="29" x2="357" y2="29"/><text x="270" y="23">goal position</text><line class="d" x1="345" y1="29" x2="196" y2="29"/><text x="270" y="36">call-place-action</text><line class="s" x1="196" y1="43" x2="344" y2="41"/><rect class="L" x="345" y="41" width="10" height="29"/><text x="560" y="33">manipulation_action_msgs/PlaceAction</text><line class="s" x1="356" y1="42" x2="765" y2="42"/><rect class="M" x="766" y="40" width="10" height="25"/><text x="560" y="57">return</text><line class="d" x1="766" y1="64" x2="357" y2="66"/><text x="272" y="62">return</text><line class="d" x1="345" y1="69" x2="196" y2="69"/><line class="d" x1="185" y1="67" x2="62" y2="67"/></g>
</svg>
</body></html>
